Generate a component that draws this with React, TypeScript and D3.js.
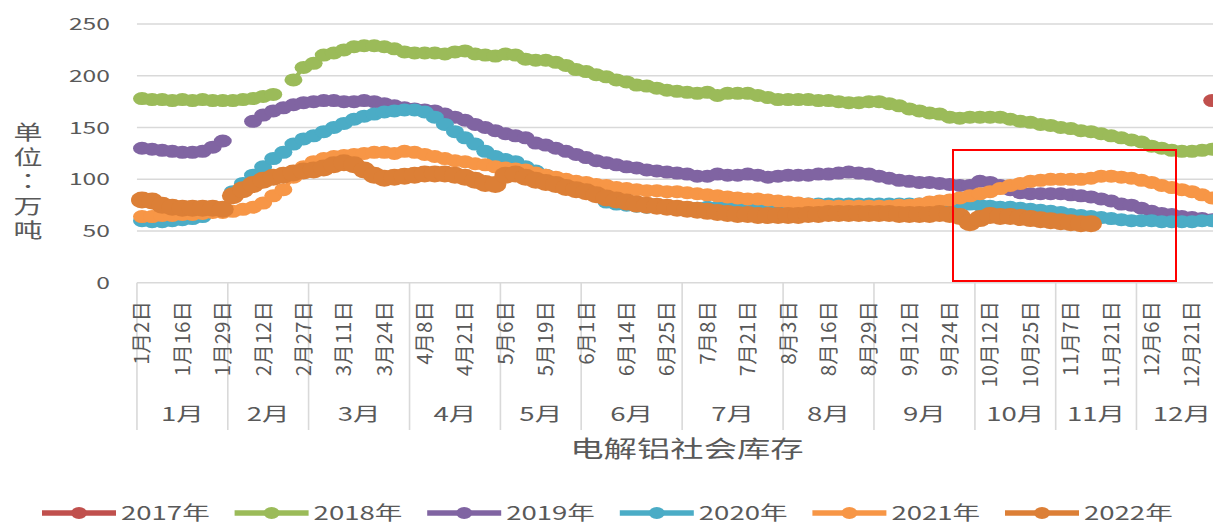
import React, { useEffect, useRef } from "react";
import * as d3 from "d3";

const _ = null;

// twice-weekly report dates (category axis)
const dates = [
  "1月2日", "1月5日", "1月9日", "1月12日", "1月16日", "1月19日", "1月23日", "1月26日", "1月29日",
  "2月2日", "2月6日", "2月9日", "2月12日", "2月16日", "2月20日", "2月23日", "2月27日",
  "3月2日", "3月5日", "3月8日", "3月11日", "3月14日", "3月18日", "3月21日", "3月24日", "3月28日", "3月31日",
  "4月4日", "4月8日", "4月11日", "4月15日", "4月18日", "4月21日", "4月25日", "4月28日", "4月30日",
  "5月6日", "5月9日", "5月13日", "5月16日", "5月19日", "5月23日", "5月26日", "5月30日",
  "6月1日", "6月4日", "6月8日", "6月11日", "6月14日", "6月18日", "6月20日", "6月22日", "6月25日", "6月29日",
  "7月2日", "7月5日", "7月8日", "7月12日", "7月15日", "7月18日", "7月21日", "7月25日", "7月28日", "7月31日",
  "8月3日", "8月6日", "8月9日", "8月13日", "8月16日", "8月20日", "8月23日", "8月26日", "8月29日",
  "9月2日", "9月5日", "9月9日", "9月12日", "9月16日", "9月19日", "9月21日", "9月24日", "9月27日", "9月30日",
  "10月8日", "10月12日", "10月15日", "10月19日", "10月22日", "10月25日", "10月28日", "10月31日",
  "11月4日", "11月7日", "11月11日", "11月14日", "11月18日", "11月21日", "11月25日", "11月28日",
  "12月2日", "12月6日", "12月9日", "12月13日", "12月16日", "12月21日", "12月23日", "12月27日", "12月30日",
];

const dayTicks = [
  "1月2日", "1月16日", "1月29日", "2月12日", "2月27日", "3月11日", "3月24日", "4月8日", "4月21日",
  "5月6日", "5月19日", "6月1日", "6月14日", "6月25日", "7月8日", "7月21日", "8月3日", "8月16日",
  "8月29日", "9月12日", "9月24日", "10月12日", "10月25日", "11月7日", "11月21日", "12月6日", "12月21日",
];

const months = ["1月", "2月", "3月", "4月", "5月", "6月", "7月", "8月", "9月", "10月", "11月", "12月"];
const yTicks = [0, 50, 100, 150, 200, 250];
const years = ["2017年", "2018年", "2019年", "2020年", "2021年", "2022年"];
const colors = ["#C0504D", "#9BBB59", "#8064A2", "#4BACC6", "#F79646", "#DC7F36"];

// 万吨, one value per date (null = no data)
const v2017 = [
  _, _, _, _, _, _, _, _, _, _, _, _, _, _, _, _, _, _, _, _,
  _, _, _, _, _, _, _, _, _, _, _, _, _, _, _, _, _, _, _, _,
  _, _, _, _, _, _, _, _, _, _, _, _, _, _, _, _, _, _, _, _,
  _, _, _, _, _, _, _, _, _, _, _, _, _, _, _, _, _, _, _, _,
  _, _, _, _, _, _, _, _, _, _, _, _, _, _, _, _, _, _, _, _,
  _, _, _, _, _, _, 176, _,
];
const v2018 = [
  178, 177, 177, 176, 177, 176, 177, 176, 176, 176, 177, 178, 180, 182, _, 196, 208, 212, 220,
  222, 225, 228, 229, 229, 228, 226, 223, 222, 222, 222, 221, 223, 224, 221, 220, 219, 221, 220, 216,
  215, 215, 213, 210, 206, 204, 201, 199, 196, 194, 191, 190, 188, 186, 185, 184, 183, 184, 181, 183,
  183, 183, 181, 179, 177, 177, 177, 177, 176, 176, 175, 174, 174, 175, 175, 173, 171, 168, 166, 164,
  163, 160, 159, 160, 160, 160, 160, 158, 156, 155, 153, 152, 150, 149, 147, 146, 144, 142, 140, 138,
  136, 132, 130, 128, 127, 127, 128, 129, 130,
];
const v2019 = [
  130, 129, 128, 127, 126, 126, 127, 131, 137, _, _, 156, 162, 166, 169, 172, 174, 175, 176,
  176, 175, 175, 176, 175, 173, 171, 169, 168, 167, 166, 163, 160, 157, 153, 150, 147, 144, 142, 140,
  135, 133, 130, 127, 124, 121, 118, 116, 114, 112, 111, 109, 108, 107, 106, 105, 103, 103, 105, 104,
  104, 105, 104, 102, 103, 104, 104, 104, 105, 105, 106, 107, 106, 105, 103, 101, 99, 98, 97, 97,
  96, 95, 94, 94, 98, 97, 94, 90, 87, 86, 86, 86, 86, 85, 84, 83, 81, 79, 76, 75,
  72, 69, 67, 66, 64, 63, 62, 61, 61,
];
const v2020 = [
  60, 59, 59, 60, 61, 62, 64, _, _, 88, 96, 104, 112, 120, 126, 134, 139, 142, 146,
  150, 154, 158, 161, 163, 165, 166, 167, 167, 165, 160, 153, 146, 140, 134, 127, 122, 119, 117, 112,
  108, 104, 100, 96, 92, 88, 84, 78, 76, 75, 74, 73, 73, 72, 72, 72, 72, 73, 73, 74,
  74, 75, 75, 75, 76, 76, 76, 76, 76, 76, 76, 76, 76, 76, 76, 76, 76, 76, 76, 76,
  76, 76, 76, 76, 75, 74, 73, 73, 72, 71, 70, 69, 68, 66, 65, 64, 63, 62, 61, 60,
  60, 60, 59, 59, 59, 59, 60, 60, 61,
];
const v2021 = [
  64, 64, 65, 65, 66, 66, 67, 68, 68, 69, 71, 73, 77, 84, 90, 102, 112, 117, 120,
  122, 123, 124, 125, 126, 126, 125, 127, 126, 124, 122, 120, 118, 117, 115, 114, 112, 111, 110, 109,
  106, 104, 102, 100, 98, 97, 95, 94, 92, 91, 90, 89, 89, 88, 88, 87, 86, 85, 84, 83,
  82, 81, 81, 80, 79, 78, 77, 76, 75, 74, 74, 74, 74, 74, 74, 74, 75, 75, 76, 78,
  79, 80, 82, 84, 86, 88, 91, 94, 96, 98, 99, 100, 100, 100, 100, 101, 103, 103, 102, 101,
  99, 97, 94, 92, 90, 88, 85, 82, 80,
];
const v2022 = [
  80, 79, 75, 73, 72, 72, 72, 72, 71, 84, 90, 95, 99, 102, 104, 106, 108, 109, 111,
  114, 116, 114, 109, 104, 101, 102, 103, 104, 105, 105, 105, 104, 102, 99, 96, 95, 104, 105, 102,
  99, 97, 95, 92, 90, 88, 85, 82, 80, 78, 76, 75, 74, 73, 72, 71, 70, 69, 68, 67,
  66, 66, 65, 65, 65, 65, 65, 66, 66, 67, 67, 67, 67, 67, 67, 67, 66, 66, 66, 66,
  67, 66, 64, 58, 62, 65, 64, 64, 63, 62, 61, 60, 59, 58, 57, 57, _, _, _, _,
  _, _, _, _, _, _, _, _, _,
];
const seriesValues = [v2017, v2018, v2019, v2020, v2021, v2022];

const FONT = "'Noto Sans CJK SC', 'Noto Sans', sans-serif";
const GREY = "#595959";
const SX = 1.45; // the source picture is stretched sideways

// widen horizontal labels the way the source picture is widened
function stretch(sel: d3.Selection<SVGTextElement, any, any, any>) {
  sel.each(function () {
    const len = this.getComputedTextLength();
    d3.select(this)
      .attr("textLength", len * SX)
      .attr("lengthAdjust", "spacingAndGlyphs");
  });
}

function App() {
  const ref = useRef<SVGSVGElement>(null);

  useEffect(() => {
    const svg = d3.select(ref.current);
    svg.selectAll("*").remove();
    const width = 1213;

    const x = d3
      .scalePoint<string>()
      .domain(dates)
      .range([142, 142 + 10.096 * (dates.length - 1)]);
    const step = x.step();
    const y = d3.scaleLinear().domain([0, 250]).range([282.8, 24]);
    const left = x(dates[0])! - step / 2;

    // gridlines
    svg
      .append("g")
      .selectAll("line")
      .data(yTicks)
      .enter()
      .append("line")
      .attr("x1", left)
      .attr("x2", width + 20)
      .attr("y1", (d) => y(d))
      .attr("y2", (d) => y(d))
      .attr("stroke", "#D9D9D9")
      .attr("stroke-width", 1.6);

    // y tick labels
    svg
      .append("g")
      .selectAll("text")
      .data(yTicks)
      .enter()
      .append("text")
      .attr("x", 110)
      .attr("y", (d) => y(d))
      .text((d) => d)
      .attr("text-anchor", "end")
      .attr("dy", "0.36em")
      .attr("font-size", 17)
      .attr("font-family", FONT)
      .attr("fill", GREY)
      .call(stretch);

    // y title, one character per row
    const titleChars = ["单", "位", "：", "万", "吨"];
    const titleY = [133, 158, 182, 207, 231];
    const title = svg
      .append("text")
      .attr("transform", `translate(28,0) scale(${SX},1)`)
      .attr("text-anchor", "middle")
      .attr("font-size", 20)
      .attr("font-family", FONT)
      .attr("fill", GREY);
    titleChars.forEach((c, i) => {
      title
        .append("tspan")
        .attr("x", 0)
        .attr("y", titleY[i] + 7)
        .attr("font-family", c === "：" ? "'Noto Sans CJK TC', sans-serif" : FONT)
        .text(c);
    });

    // month groups
    const monthOf = (d: string) => d.slice(0, d.indexOf("月") + 1);
    const bounds = months.map((m) => {
      const ds = dates.filter((d) => monthOf(d) === m);
      return [x(ds[0])! - step / 2, x(ds[ds.length - 1])! + step / 2];
    });
    svg
      .append("g")
      .selectAll("line")
      .data(bounds)
      .enter()
      .append("line")
      .attr("x1", (d) => d[0])
      .attr("x2", (d) => d[0])
      .attr("y1", y(0))
      .attr("y2", 430)
      .attr("stroke", "#D9D9D9")
      .attr("stroke-width", 1.6);
    svg
      .append("g")
      .selectAll("text")
      .data(months)
      .enter()
      .append("text")
      .attr("x", (d, i) => (bounds[i][0] + bounds[i][1]) / 2)
      .attr("y", 414)
      .text((d) => d)
      .attr("text-anchor", "middle")
      .attr("dy", "0.36em")
      .attr("font-size", 19)
      .attr("font-family", FONT)
      .attr("fill", GREY)
      .call(stretch);

    // day tick labels, rotated
    svg
      .append("g")
      .selectAll("text")
      .data(dayTicks)
      .enter()
      .append("text")
      .attr("transform", (d) => `translate(${x(d)},301) rotate(-90)`)
      .text((d) => d)
      .attr("text-anchor", "end")
      .attr("dy", "0.36em")
      .attr("font-size", 20.5)
      .attr("font-family", FONT)
      .attr("fill", GREY);

    // axis title
    svg
      .append("text")
      .attr("x", 687)
      .attr("y", 449)
      .text("电解铝社会库存")
      .attr("text-anchor", "middle")
      .attr("dy", "0.36em")
      .attr("font-size", 23)
      .attr("font-family", FONT)
      .attr("fill", GREY)
      .call(stretch);

    // series
    const line = d3
      .line<number | null>()
      .defined((d) => d != null)
      .x((d, i) => x(dates[i])!)
      .y((d) => y(d as number));
    seriesValues.forEach((vals, s) => {
      const g = svg.append("g");
      const big = s === 5;
      g.append("path")
        .attr("d", line(vals))
        .attr("fill", "none")
        .attr("stroke", colors[s])
        .attr("stroke-width", 4);
      g.selectAll("ellipse")
        .data(vals.map((v, i) => ({ v, d: dates[i] })).filter((p) => p.v != null))
        .enter()
        .append("ellipse")
        .attr("cx", (p) => x(p.d)!)
        .attr("cy", (p) => y(p.v as number))
        .attr("rx", big ? 11 : 9)
        .attr("ry", big ? 8.5 : 6.5)
        .attr("fill", colors[s]);
    });

    // highlight box
    svg
      .append("rect")
      .attr("x", 953)
      .attr("y", 150)
      .attr("width", 223)
      .attr("height", 131)
      .attr("fill", "none")
      .attr("stroke", "#FF0000")
      .attr("stroke-width", 2);

    // legend
    const lg = svg
      .append("g")
      .selectAll("g")
      .data(years)
      .enter()
      .append("g")
      .attr("transform", (d, i) => `translate(${42 + i * 192.6},513)`);
    lg.append("line")
      .attr("x1", 0)
      .attr("x2", 74)
      .attr("stroke", (d, i) => colors[i])
      .attr("stroke-width", 5.5);
    lg.append("ellipse")
      .attr("cx", 37)
      .attr("rx", 8)
      .attr("ry", 6)
      .attr("fill", (d, i) => colors[i]);
    lg.append("text")
      .attr("x", 79)
      .text((d) => d)
      .attr("dy", "0.36em")
      .attr("font-size", 19)
      .attr("font-family", FONT)
      .attr("fill", GREY)
      .call(stretch);
  }, []);

  return (
    <svg
      ref={ref}
      width={1213}
      height={524}
      style={{ position: "absolute", left: 0, top: 0, background: "#fff" }}
    />
  );
}

export default App;
